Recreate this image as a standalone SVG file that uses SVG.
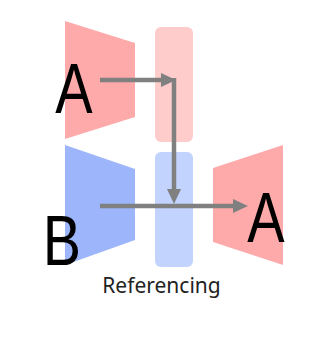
<svg xmlns="http://www.w3.org/2000/svg" width="326" height="352" viewBox="0 0 326 352">
<defs>
<marker id="arr" markerUnits="userSpaceOnUse" markerWidth="15" markerHeight="15" refX="0" refY="7" orient="auto">
<path d="M0,0 L15,7 L0,14 z" fill="#808080"/>
</marker>
<style>
.pink{fill:#ffaaaa}
.pinkl{fill:#ffcccc}
.blue{fill:#9db6fb}
.bluel{fill:#c2d3fe}
.hand{font-family:"Liberation Sans",Arial,sans-serif;font-size:70px;fill:#000;text-anchor:middle}
.cap{font-family:"Noto Sans","Open Sans",sans-serif;font-size:21px;fill:#222}
.con{fill:none;stroke:#808080;stroke-width:4.5;marker-end:url(#arr)}
</style>
</defs>
<rect width="326" height="352" fill="#ffffff"/>
<g id="encA">
<polygon class="pink" points="65,21 135,43 135,117 65,139"/>
</g>
<g id="encB">
<polygon class="blue" points="65,145 135,169 135,240 65,265"/>
</g>
<g id="featA">
<rect class="pinkl" x="155" y="27" width="38" height="115" rx="6"/>
</g>
<g id="featB">
<rect class="bluel" x="155" y="152" width="38" height="115" rx="6"/>
</g>
<g id="decA">
<polygon class="pink" points="213,168 283,145 283,265 213,242"/>
</g>
<g id="connectors">
<path class="con" d="M100,80 H161"/>
<path class="con" d="M174,78 V189"/>
<path class="con" d="M100,206 H233"/>
</g>
<g id="labels">
<text class="hand" transform="translate(74,113) scale(0.8,1)">A</text>
<text class="hand" transform="translate(62,265) scale(0.82,1)">B</text>
<text class="hand" transform="translate(266,242) scale(0.8,1)">A</text>
<text class="cap" x="161.5" y="293" text-anchor="middle">Referencing</text>
</g>
</svg>
